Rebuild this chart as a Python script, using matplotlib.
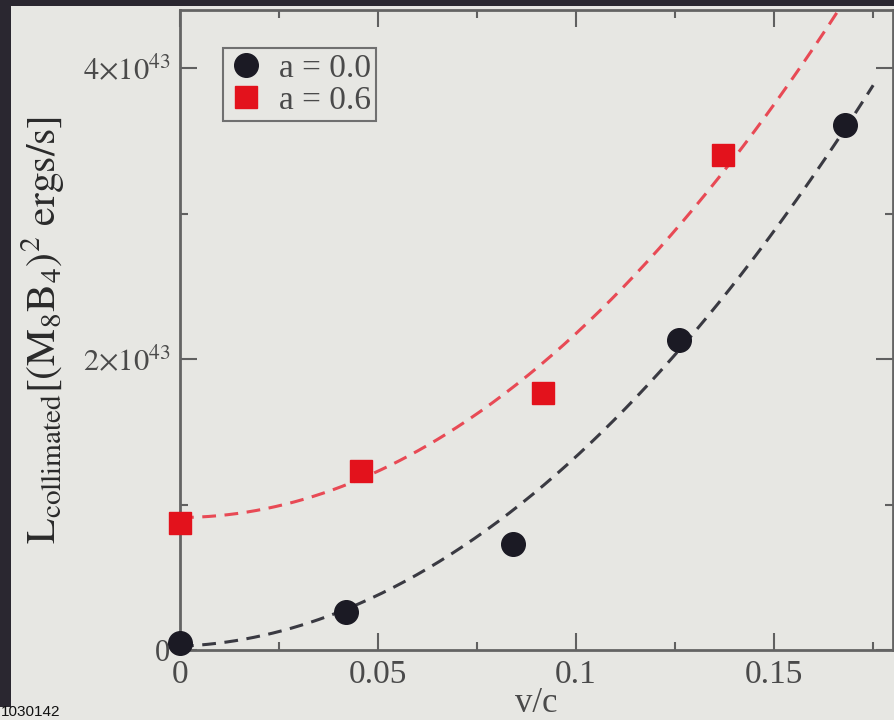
import numpy as np
import matplotlib
matplotlib.use("Agg")
import matplotlib.pyplot as plt
from matplotlib.ticker import MultipleLocator, FixedLocator
from matplotlib.patches import Rectangle

plt.rcParams['font.family'] = ['Liberation Serif', 'DejaVu Serif']
plt.rcParams['mathtext.fontset'] = 'stix'

# ---- data ----
v_a00 = [0.0, 0.042, 0.084, 0.126, 0.168]
L_a00 = [0.05e43, 0.26e43, 0.73e43, 2.13e43, 3.61e43]
v_a06 = [0.0, 0.0457, 0.0917, 0.137]
L_a06 = [0.87e43, 1.23e43, 1.77e43, 3.40e43]

# dashed curves: positions
curve_v_a00 = [0.0, 0.042, 0.084, 0.126, 0.168, 0.175]
curve_L_a00 = [0.05e43, 0.25e43, 0.91e43, 2.16e43, 3.55e43, 3.88e43]
curve_v_a06 = [0.0, 0.046, 0.0917, 0.137, 0.167]
curve_L_a06 = [0.91e43, 1.20e43, 1.92e43, 3.35e43, 4.40e43]

labels = ['a = 0.0', 'a = 0.6']
xticks = [0, 0.05, 0.1, 0.15]
xticklabels = ['0', '0.05', '0.1', '0.15']
yticks = [0, 2e43, 4e43]
yticklabels = ['0', r'$2{\times}10^{43}$', r'$4{\times}10^{43}$']

BG = '#e7e7e3'
BORDER = '#2a2730'
TXT = '#4a4a4a'

fig = plt.figure(figsize=(8.95, 7.2), dpi=100, facecolor=BG)
W, H = 895, 720

# dark photo borders
fig.patches.append(Rectangle((0, 13 / H), 11 / W, 1 - 13 / H, transform=fig.transFigure,
                             facecolor=BORDER, edgecolor='none', zorder=0))
fig.patches.append(Rectangle((0, 1 - 6 / H), 1, 6 / H, transform=fig.transFigure,
                             facecolor=BORDER, edgecolor='none', zorder=0))

ax = fig.add_axes([180 / W, 1 - 650 / H, (893 - 180) / W, (650 - 10) / H])
ax.set_facecolor(BG)

# curves
c0 = np.polyfit(curve_v_a00, curve_L_a00, 2)
c6 = np.polyfit(curve_v_a06, curve_L_a06, 2)
xx0 = np.linspace(0, curve_v_a00[-1], 300)
xx6 = np.linspace(0, 0.18, 300)
ax.plot(xx0, np.polyval(c0, xx0), color='#3a3a42', lw=2.2, dashes=(4.5, 2.8), zorder=2)
ax.plot(xx6, np.polyval(c6, xx6), color='#e84a55', lw=2.2, dashes=(4.5, 2.8), zorder=2)

# points
ax.plot(v_a00, L_a00, 'o', ms=17, color='#1b1a24', mec='#1b1a24', ls='none',
        label=labels[0], zorder=3, clip_on=False)
ax.plot(v_a06, L_a06, 's', ms=15.5, color='#e3121c', mec='#e3121c', ls='none',
        label=labels[1], zorder=3, clip_on=False)

ax.set_xlim(0, 0.18)
ax.set_ylim(0, 4.4e43)

ax.xaxis.set_major_locator(FixedLocator(xticks))
ax.set_xticklabels(xticklabels)
ax.xaxis.set_minor_locator(MultipleLocator(0.025))
ax.yaxis.set_major_locator(FixedLocator(yticks))
ax.set_yticklabels(yticklabels)
ax.yaxis.set_minor_locator(MultipleLocator(1e43))

ax.tick_params(which='both', direction='in', top=True, right=True,
               color='#606060', width=1.5, labelcolor=TXT, labelsize=24)
ax.tick_params(which='major', length=12, pad=7)
ax.tick_params(which='minor', length=6)
ax.tick_params(axis='y', labelsize=22)
for s in ax.spines.values():
    s.set_color('#646464')
    s.set_linewidth(2)

ax.set_xlabel('v/c', fontsize=25, color=TXT)
ax.set_ylabel(r'$\mathrm{L}_{\mathrm{collimated}}[(\mathrm{M}_8\mathrm{B}_4)^2\ \mathrm{ergs/s}]$',
              fontsize=30, color='#2a2a2a')
ax.yaxis.set_label_coords(-0.158, 0.5)
ax.xaxis.set_label_coords(0.5, -0.058)

leg = ax.legend(loc='upper left', bbox_to_anchor=(0.060, 0.9406), frameon=True,
                fancybox=False, fontsize=24, handletextpad=0.45, borderpad=0.15,
                labelspacing=0.05, handlelength=1.1, borderaxespad=0)
leg.get_frame().set_edgecolor('#707070')
leg.get_frame().set_linewidth(1.5)
leg.get_frame().set_facecolor(BG)
leg.get_frame().set_alpha(1)
for t in leg.get_texts():
    t.set_color(TXT)

fig.text(1 / W, 1 / H, '1030142', fontsize=11, family='Liberation Sans',
         color='#111111', ha='left', va='bottom')

fig.savefig('out.png', dpi=100, facecolor=BG)
